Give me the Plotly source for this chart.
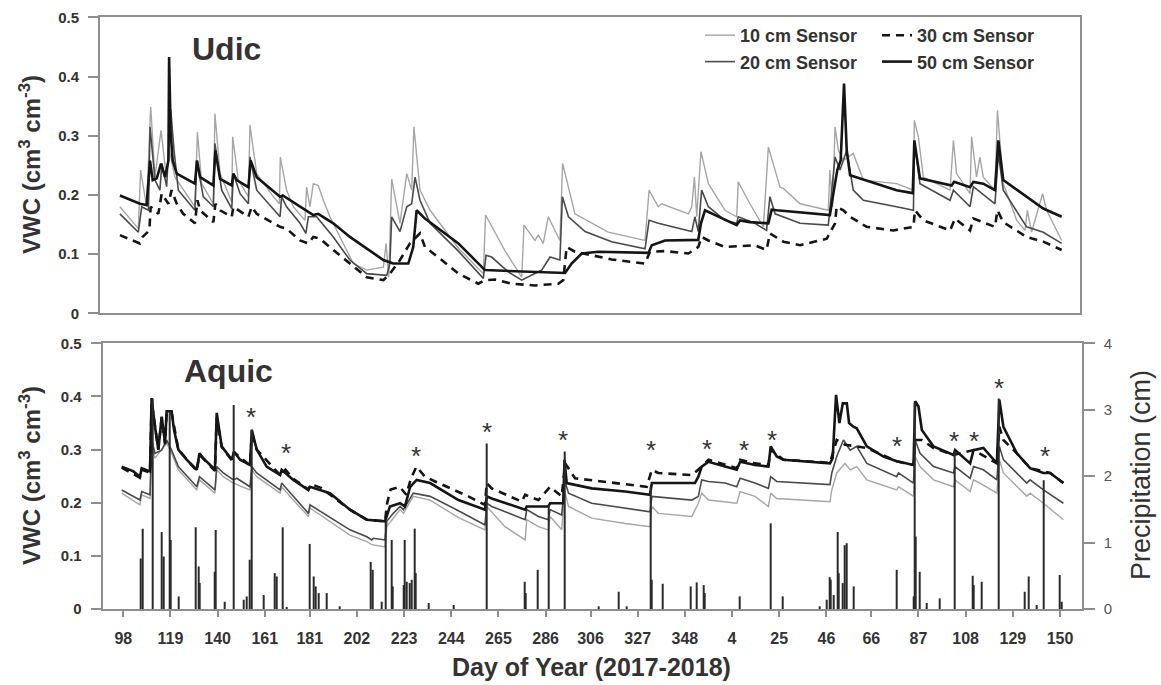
import plotly.graph_objects as go

W, H = 1161, 685

# ---------------- data ----------------
doy_tick_labels = [98, 119, 140, 161, 181, 202, 223, 244, 265, 286, 306, 327, 348,
                   4, 25, 46, 66, 87, 108, 129, 150]

# (continuous day, VWC) -- 2018 days are counted as DOY + 365
udic_10cm = [(96.5,.180),(104.7,.143),(105.7,.242),(108.4,.180),(110.2,.349),(112.1,.230),(114.8,.309),(117.0,.236),(118.5,.275),(121.0,.230),(129.9,.180),(131.0,.306),(132.9,.219),(138.1,.185),(138.8,.337),(141.1,.236),(146.3,.188),(146.7,.298),(149.2,.225),(153.7,.197),(154.4,.318),(157.4,.236),(164.8,.197),(167.5,.185),(167.9,.264),(170.7,.208),(173.7,.180),(178.9,.157),(179.6,.213),(181.1,.180),(182.6,.219),(184.8,.216),(187.1,.191),(190.0,.163),(200.4,.084),(206.4,.073),(213.8,.078),(215.0,.118),(216.2,.061),(217.5,.227),(221.2,.152),(224.2,.236),(226.4,.208),(227.4,.315),(230.1,.208),(234.6,.174),(247.2,.110),(258.3,.067),(259.3,.166),(267.9,.106),(275.4,.061),(276.4,.149),(281.3,.123),(282.8,.132),(285.0,.118),(287.2,.163),(292.4,.123),(293.6,.253),(299.1,.168),(313.9,.137),(330.3,.123),(332.1,.208),(336.2,.180),(337.7,.185),(349.6,.168),(351.1,.180),(352.3,.230),(353.3,.163),(355.2,.273),(358.5,.219),(365.9,.174),(371.1,.163),(371.8,.222),(377.0,.185),(383.0,.146),(385.2,.281),(390.4,.213),(391.9,.211),(399.3,.185),(411.9,.174),(412.6,.242),(413.8,.180),(414.9,.315),(416.4,.275),(418.6,.258),(423.0,.270),(427.5,.225),(442.3,.219),(449.8,.208),(450.2,.326),(452.0,.298),(454.2,.230),(466.1,.208),(467.6,.292),(469.0,.236),(475.0,.202),(475.7,.298),(477.9,.230),(479.4,.264),(480.9,.230),(486.1,.208),(487.2,.343),(489.8,.219),(495.8,.157),(499.5,.140),(500.5,.174),(502.4,.137),(507.3,.202),(509.1,.174),(515.8,.123)]

udic_20cm = [(96.5,.168),(104.7,.137),(106.2,.180),(109.2,.174),(109.9,.315),(112.1,.225),(114.3,.208),(115.2,.253),(117.3,.214),(119.1,.345),(120.6,.275),(122.5,.208),(129.9,.174),(130.7,.258),(133.6,.197),(138.1,.180),(138.8,.287),(141.8,.208),(146.3,.177),(147.0,.236),(150.0,.202),(153.7,.185),(154.4,.264),(157.4,.208),(167.8,.163),(168.5,.197),(170.7,.180),(176.7,.152),(179.3,.135),(180.4,.163),(184.1,.163),(191.5,.129),(198.9,.090),(206.4,.067),(215.3,.064),(216.7,.084),(217.5,.163),(221.2,.138),(224.2,.180),(226.4,.185),(227.9,.230),(230.1,.191),(234.6,.152),(247.2,.105),(258.3,.059),(259.5,.098),(262.0,.095),(269.4,.070),(275.4,.056),(284.3,.073),(288.0,.095),(292.4,.090),(293.5,.197),(296.2,.163),(303.6,.138),(315.4,.121),(330.3,.109),(332.1,.157),(336.2,.152),(351.1,.138),(352.5,.163),(354.0,.138),(355.5,.208),(358.5,.180),(365.9,.157),(371.1,.152),(371.8,.163),(379.2,.152),(384.4,.140),(385.9,.197),(388.2,.168),(399.3,.152),(411.9,.149),(414.9,.264),(417.1,.242),(420.1,.275),(423.0,.208),(427.5,.191),(442.3,.180),(449.8,.174),(450.2,.292),(452.7,.219),(466.1,.191),(467.6,.208),(475.0,.180),(476.5,.214),(486.1,.185),(487.6,.270),(489.8,.208),(500.2,.146),(507.6,.137),(515.8,.118)]

udic_30cm = [(96.5,.132),(105.4,.118),(106.6,.129),(109.6,.140),(110.2,.180),(113.6,.168),(115.1,.202),(118.1,.185),(119.5,.208),(121.8,.185),(124.7,.168),(129.9,.152),(131.0,.191),(132.2,.174),(138.1,.154),(139.0,.185),(141.1,.174),(146.3,.163),(147.0,.180),(153.7,.163),(155.2,.180),(157.4,.168),(167.8,.146),(170.7,.143),(176.7,.123),(180.4,.118),(182.6,.129),(185.6,.126),(191.5,.107),(198.9,.084),(206.4,.061),(213.8,.056),(216.7,.067),(221.2,.090),(225.6,.118),(230.1,.135),(232.3,.112),(239.8,.090),(247.2,.067),(256.1,.050),(259.0,.056),(263.5,.057),(270.9,.050),(281.3,.047),(291.7,.050),(293.9,.056),(295.4,.112),(299.1,.104),(306.5,.098),(315.4,.091),(330.3,.084),(332.5,.104),(339.2,.105),(349.6,.101),(354.0,.112),(355.5,.129),(358.5,.123),(365.9,.112),(379.2,.115),(384.4,.107),(385.9,.135),(391.9,.121),(399.3,.115),(411.2,.126),(414.9,.152),(415.6,.180),(418.6,.174),(421.6,.163),(429.0,.146),(440.8,.140),(449.8,.146),(450.5,.174),(454.2,.157),(466.1,.140),(468.3,.160),(475.0,.140),(476.5,.160),(486.1,.146),(487.2,.174),(489.8,.154),(500.2,.129),(507.6,.121),(515.8,.107)]

udic_50cm = [(96.5,.199),(105.4,.185),(108.4,.183),(109.9,.258),(111.1,.225),(112.9,.228),(114.8,.253),(116.6,.230),(118.1,.258),(118.4,.433),(119.1,.304),(120.0,.258),(121.8,.236),(129.9,.219),(130.8,.258),(132.2,.230),(138.1,.216),(139.0,.275),(141.1,.227),(146.3,.216),(147.0,.236),(148.5,.225),(153.7,.213),(154.7,.258),(157.4,.230),(167.8,.197),(169.0,.199),(176.7,.180),(182.6,.166),(184.8,.168),(191.5,.152),(198.9,.129),(206.4,.109),(213.8,.090),(218.2,.084),(224.9,.084),(227.1,.112),(228.6,.174),(232.3,.160),(247.2,.118),(259.0,.073),(276.9,.070),(294.7,.068),(297.6,.084),(302.1,.101),(309.5,.104),(331.8,.102),(333.3,.115),(339.2,.123),(354.0,.124),(355.2,.152),(357.0,.174),(361.4,.166),(371.1,.149),(372.6,.157),(377.0,.154),(385.2,.152),(386.7,.175),(388.9,.174),(412.6,.166),(414.4,.208),(415.9,.242),(417.4,.258),(418.9,.388),(420.1,.275),(421.6,.233),(442.3,.208),(449.5,.203),(450.2,.292),(451.2,.264),(452.7,.228),(466.8,.216),(467.9,.222),(475.0,.213),(476.5,.222),(480.9,.219),(486.1,.208),(487.6,.292),(489.8,.225),(507.6,.177),(515.8,.163)]

aquic_10cm = [(97.3,.218),(105.4,.196),(106.2,.215),(109.9,.208),(110.6,.306),(112.1,.284),(117.3,.312),(119.5,.293),(122.5,.262),(130.7,.224),(131.9,.243),(138.8,.218),(139.6,.262),(142.5,.249),(147.0,.237),(154.4,.224),(155.2,.262),(157.4,.249),(167.8,.218),(168.5,.230),(173.7,.205),(180.4,.174),(181.1,.190),(191.5,.161),(198.9,.139),(206.4,.127),(208.6,.121),(214.5,.117),(215.3,.155),(221.2,.187),(222.7,.180),(227.1,.212),(234.6,.205),(247.2,.172),(259.0,.149),(259.8,.193),(267.9,.155),(276.9,.130),(277.6,.168),(282.8,.155),(287.2,.149),(288.0,.174),(293.2,.149),(294.4,.224),(296.2,.193),(306.5,.171),(321.4,.161),(332.5,.155),(333.3,.193),(336.2,.180),(351.1,.174),(354.0,.199),(355.5,.218),(358.5,.205),(371.1,.199),(372.6,.221),(379.2,.212),(385.2,.193),(386.2,.218),(388.9,.208),(412.6,.202),(413.4,.224),(415.6,.256),(419.3,.274),(421.6,.262),(424.5,.268),(429.0,.243),(442.3,.224),(443.1,.230),(449.8,.212),(450.5,.287),(452.7,.268),(458.7,.243),(467.6,.230),(468.3,.243),(475.0,.221),(476.5,.243),(480.9,.233),(486.9,.218),(488.0,.281),(489.8,.256),(500.2,.212),(501.7,.218),(507.6,.199),(516.5,.168)]

aquic_20cm = [(97.3,.224),(105.4,.205),(106.2,.221),(109.9,.215),(110.6,.318),(112.1,.293),(115.1,.299),(117.3,.318),(119.5,.299),(122.5,.268),(130.7,.230),(131.9,.249),(138.8,.224),(139.6,.268),(142.5,.256),(147.0,.243),(148.5,.246),(154.4,.230),(155.2,.268),(157.4,.256),(167.8,.224),(168.5,.237),(173.7,.212),(180.4,.180),(181.1,.196),(191.5,.168),(198.9,.149),(206.4,.136),(208.6,.130),(209.3,.133),(214.5,.130),(215.3,.165),(218.2,.180),(221.2,.193),(222.7,.187),(227.1,.218),(234.6,.212),(247.2,.185),(259.0,.158),(259.8,.199),(262.0,.193),(276.9,.168),(277.6,.187),(282.8,.174),(287.2,.168),(288.0,.187),(293.2,.177),(294.4,.243),(296.2,.218),(306.5,.199),(321.4,.190),(332.5,.183),(333.3,.212),(351.1,.205),(354.0,.212),(355.5,.243),(358.5,.240),(365.9,.237),(371.1,.230),(372.6,.246),(379.2,.237),(385.2,.227),(386.2,.249),(388.9,.240),(412.6,.234),(413.4,.256),(415.6,.287),(418.6,.318),(421.6,.299),(424.5,.306),(429.0,.274),(442.3,.249),(443.1,.256),(449.8,.237),(450.5,.318),(452.7,.293),(458.7,.268),(467.6,.256),(468.3,.268),(475.0,.246),(476.5,.268),(480.9,.262),(486.9,.243),(488.0,.306),(489.8,.281),(500.2,.237),(501.7,.243),(507.6,.224),(516.5,.199)]

aquic_30cm = [(97.3,.266),(105.4,.247),(106.2,.262),(109.9,.257),(110.6,.390),(113.6,.300),(115.1,.360),(116.6,.310),(117.3,.370),(119.5,.370),(122.5,.300),(130.7,.260),(131.9,.290),(138.8,.260),(139.6,.360),(141.8,.305),(146.3,.280),(147.3,.295),(154.4,.270),(155.2,.330),(157.4,.300),(167.8,.252),(170.2,.262),(173.7,.245),(180.4,.225),(181.5,.235),(186.0,.228),(190.0,.215),(198.9,.187),(206.4,.168),(214.5,.165),(215.5,.200),(217.0,.225),(221.0,.230),(224.0,.215),(226.0,.245),(228.5,.268),(232.3,.249),(236.8,.240),(251.6,.212),(259.0,.196),(259.8,.237),(262.0,.227),(275.4,.202),(276.9,.215),(282.8,.205),(288.0,.230),(293.2,.212),(294.7,.274),(299.1,.246),(321.4,.234),(331.0,.230),(333.3,.262),(336.2,.256),(351.1,.252),(355.5,.268),(358.5,.281),(365.9,.271),(371.1,.265),(372.6,.281),(379.2,.274),(385.2,.271),(386.2,.300),(391.9,.281),(412.6,.275),(415.6,.318),(419.3,.309),(424.5,.306),(429.0,.303),(442.3,.278),(449.8,.271),(450.5,.318),(453.5,.318),(458.7,.303),(467.6,.290),(476.5,.299),(486.9,.274),(488.0,.343),(489.8,.318),(495.8,.293),(501.7,.265),(510.6,.256),(516.5,.237)]

aquic_50cm = [(97.3,.268),(102.5,.259),(105.4,.249),(106.2,.265),(109.9,.259),(110.6,.397),(112.1,.343),(113.6,.300),(115.1,.362),(116.6,.312),(117.3,.372),(119.5,.372),(120.6,.337),(122.5,.300),(126.2,.281),(130.7,.262),(131.9,.293),(133.6,.284),(138.8,.262),(139.6,.369),(141.8,.306),(146.3,.281),(147.3,.296),(150.0,.281),(154.4,.271),(155.2,.337),(157.4,.300),(161.8,.268),(167.8,.252),(168.5,.262),(173.7,.243),(180.4,.224),(181.1,.230),(190.0,.218),(198.9,.187),(206.4,.168),(214.5,.165),(216.7,.193),(221.2,.199),(223.4,.193),(225.7,.230),(228.6,.243),(234.6,.237),(247.2,.205),(259.0,.187),(259.8,.212),(262.0,.208),(276.9,.187),(277.6,.193),(287.2,.193),(288.0,.199),(293.9,.199),(294.4,.281),(295.4,.237),(306.5,.227),(321.4,.221),(332.5,.215),(333.3,.237),(352.5,.237),(354.0,.249),(355.5,.268),(358.5,.277),(365.9,.268),(371.1,.262),(372.6,.277),(379.2,.271),(385.2,.268),(386.2,.306),(388.9,.287),(391.9,.281),(412.6,.274),(413.8,.284),(415.3,.403),(416.8,.350),(418.3,.387),(420.1,.387),(421.1,.350),(423.0,.343),(424.5,.340),(429.0,.306),(436.4,.287),(442.3,.278),(449.8,.271),(450.5,.391),(452.0,.381),(453.5,.337),(458.7,.306),(467.6,.290),(468.3,.299),(475.0,.274),(476.5,.299),(480.9,.303),(486.9,.274),(488.0,.394),(489.8,.343),(495.8,.293),(501.7,.265),(507.6,.256),(510.6,.256),(516.5,.237)]

# (continuous day, precipitation cm)
aquic_precip = [(105.7,0.76),(106.5,1.21),(110.9,3.17),(115.1,1.16),(115.8,0.79),(118.5,2.97),(119.2,1.04),(122.8,0.19),(130.2,1.23),(131.4,0.64),(131.9,0.39),(138.8,0.56),(139.3,1.19),(143.3,0.11),(147.3,3.07),(151.7,0.14),(152.9,0.19),(154.4,0.74),(155.2,2.70),(160.4,0.21),(165.5,0.54),(166.3,0.49),(168.8,1.23),(170.7,0.03),(180.8,0.98),(182.9,0.49),(183.8,0.34),(184.8,0.24),(188.5,0.24),(194.5,0.04),(208.1,0.71),(209.0,0.59),(213.0,0.11),(215.0,1.32),(217.5,1.04),(218.0,0.34),(222.7,0.36),(223.4,1.04),(224.2,0.41),(225.7,0.39),(226.4,0.44),(227.9,1.21),(228.3,0.54),(233.8,0.09),(244.9,0.06),(259.8,2.49),(276.9,0.41),(277.3,0.24),(282.5,0.59),(287.5,1.57),(294.4,2.37),(309.5,0.04),(318.7,0.26),(322.1,0.04),(332.8,1.84),(333.3,0.44),(338.2,0.38),(350.6,0.34),(353.3,0.40),(356.2,0.36),(356.7,0.24),(372.3,0.19),(386.4,1.29),(391.6,0.19),(408.2,0.04),(411.2,0.14),(412.6,0.48),(413.1,0.44),(414.4,0.21),(415.9,1.16),(416.4,0.54),(418.1,0.39),(419.3,0.96),(420.1,0.99),(423.0,0.34),(442.3,0.59),(449.8,0.19),(450.5,3.10),(450.9,1.09),(452.7,0.56),(455.7,0.09),(461.6,0.16),(468.3,2.37),(476.2,0.50),(476.8,0.36),(480.2,0.41),(487.6,3.17),(499.5,0.26),(500.9,0.49),(504.7,0.06),(507.9,1.94),(514.8,0.51),(515.8,0.11)]

# significant events marked with asterisks (continuous day, VWC)
aquic_asterisks = [(154.7,.369),(170.3,.301),(228.3,.295),(260.1,.340),(293.6,.325),(332.8,.306),(358.0,.309),(374.1,.307),(386.7,.325),(442.3,.314),(468.0,.323),(476.9,.323),(488.0,.423),(508.1,.296)]


def unzip(pairs):
    return [p[0] for p in pairs], [p[1] for p in pairs]


tick_vals = []
offset, prev = 0, -1
for lab in doy_tick_labels:
    if lab < prev:
        offset = 365
    tick_vals.append(lab + offset)
    prev = lab

# ---------------- styling ----------------
FONT = "Liberation Sans, Arial, sans-serif"
TXT = "#333333"
AXC = "#8e8e8e"
styles = {
    "10": dict(color="#a6a6a6", width=1.4),
    "20": dict(color="#4a4a4a", width=1.6),
    "30": dict(color="#151515", width=2.6, dash="8px,6px"),
    "50": dict(color="#151515", width=2.6),
}

fig = go.Figure()

top = [("10 cm Sensor", udic_10cm, "10", "legend"),
       ("20 cm Sensor", udic_20cm, "20", "legend"),
       ("30 cm Sensor", udic_30cm, "30", "legend2"),
       ("50 cm Sensor", udic_50cm, "50", "legend2")]
for name, data, key, leg in top:
    x, y = unzip(data)
    fig.add_trace(go.Scatter(x=x, y=y, mode="lines", name=name, line=styles[key],
                             xaxis="x", yaxis="y", legend=leg, hoverinfo="skip"))

px_, py_ = unzip(aquic_precip)
fig.add_trace(go.Bar(x=px_, y=py_, width=0.45, marker=dict(color="#2b2b2b", line=dict(width=0)),
                     xaxis="x2", yaxis="y3", showlegend=False, hoverinfo="skip"))

bottom = [("10 cm Sensor", aquic_10cm, "10"), ("20 cm Sensor", aquic_20cm, "20"),
          ("30 cm Sensor", aquic_30cm, "30"), ("50 cm Sensor", aquic_50cm, "50")]
for name, data, key in bottom:
    x, y = unzip(data)
    fig.add_trace(go.Scatter(x=x, y=y, mode="lines", name=name, line=styles[key],
                             xaxis="x2", yaxis="y2", showlegend=False, hoverinfo="skip"))

vwc_ticks = [0, 0.1, 0.2, 0.3, 0.4, 0.5]
vwc_text = ["0", "0.1", "0.2", "0.3", "0.4", "0.5"]
yfont = dict(family=FONT, size=15, color=TXT, weight="bold")

common_y = dict(range=[0, 0.5], tickvals=vwc_ticks, ticktext=vwc_text, ticks="outside",
                ticklen=10, tickwidth=1.5, tickcolor=AXC, showline=True, mirror=True,
                linecolor=AXC, linewidth=2, showgrid=False, zeroline=False, tickfont=yfont,
                ticklabelstandoff=6, automargin=False)

fig.update_layout(
    width=W, height=H, margin=dict(l=0, r=0, t=0, b=0, autoexpand=False), autosize=False,
    plot_bgcolor="white", paper_bgcolor="white",
    xaxis=dict(domain=[100 / W, 1080 / W], range=[87.63, 523.96], anchor="y",
               showline=True, mirror=True, linecolor=AXC, linewidth=2, automargin=False,
               showticklabels=False, ticks="", showgrid=False, zeroline=False),
    yaxis=dict(domain=[1 - 313.3 / H, 1 - 17.3 / H], anchor="x", **common_y),
    xaxis2=dict(domain=[102.7 / W, 1081.7 / W], range=[88.83, 524.66], anchor="y2",
                showline=True, mirror=True, linecolor=AXC, linewidth=2, automargin=False,
                tickvals=tick_vals, ticktext=[str(v) for v in doy_tick_labels],
                ticks="outside", ticklen=6, tickwidth=1.5, tickcolor=AXC,
                tickfont=dict(family=FONT, size=16, color=TXT, weight="bold"),
                ticklabelstandoff=8, showgrid=False, zeroline=False),
    yaxis2=dict(domain=[1 - 609 / H, 1 - 343.3 / H], anchor="x2", **common_y),
    yaxis3=dict(overlaying="y2", side="right", anchor="x2", range=[0, 4], automargin=False,
                tickvals=[0, 1, 2, 3, 4], ticks="outside", ticklen=11, tickwidth=1.5,
                tickcolor=AXC, showline=True, linecolor=AXC, linewidth=2,
                tickfont=dict(family=FONT, size=15, color="#555555"),
                ticklabelstandoff=6, showgrid=False, zeroline=False),
    legend=dict(x=700 / W, y=1 - 17 / H, xanchor="left", yanchor="top",
                bgcolor="rgba(0,0,0,0)", itemwidth=30, tracegroupgap=0,
                font=dict(family=FONT, size=18, color=TXT, weight="bold")),
    legend2=dict(x=877 / W, y=1 - 17 / H, xanchor="left", yanchor="top",
                 bgcolor="rgba(0,0,0,0)", itemwidth=30, tracegroupgap=0,
                 font=dict(family=FONT, size=18, color=TXT, weight="bold")),
    showlegend=True,
)

# asterisks over the Aquic panel (drawn on the data axes)
for d, v in aquic_asterisks:
    fig.add_annotation(x=d, y=v, xref="x2", yref="y2", text="*", showarrow=False,
                       xanchor="center", yanchor="middle", yshift=-4,
                       font=dict(family=FONT, size=26, color=TXT))

ann = [
    dict(text="<b>Udic</b>", x=226 / W, y=1 - 49 / H, font=dict(size=32)),
    dict(text="<b>Aquic</b>", x=228 / W, y=1 - 371 / H, font=dict(size=32)),
    dict(text="<b>VWC (cm<sup>3</sup> cm<sup>-3</sup>)</b>", x=30 / W, y=1 - 165 / H,
         textangle=-90, font=dict(size=24)),
    dict(text="<b>VWC (cm<sup>3</sup> cm<sup>-3</sup>)</b>", x=30 / W, y=1 - 476 / H,
         textangle=-90, font=dict(size=24)),
    dict(text="Precipitation (cm)", x=1141 / W, y=1 - 475 / H, textangle=-90,
         font=dict(size=27)),
    dict(text="<b>Day of Year (2017-2018)</b>", x=591 / W, y=1 - 667 / H, font=dict(size=25)),
]
for a in ann:
    a.update(xref="paper", yref="paper", showarrow=False, xanchor="center", yanchor="middle")
    a["font"].update(family=FONT, color=TXT)
    fig.add_annotation(**a)

page_fix = (
    "var gd=document.getElementById('{plot_id}');"
    "var de=document.documentElement,b=document.body;"
    "de.style.margin='0';de.style.padding='0';b.style.margin='0';b.style.padding='0';"
    "de.style.overflow='hidden';b.style.overflow='hidden';"
    "de.style.height='685px';b.style.height='685px';"
    "gd.style.position='fixed';gd.style.left='0px';gd.style.top='0px';"
)
fig.write_html("out.html", config={"displayModeBar": False}, post_script=page_fix)
